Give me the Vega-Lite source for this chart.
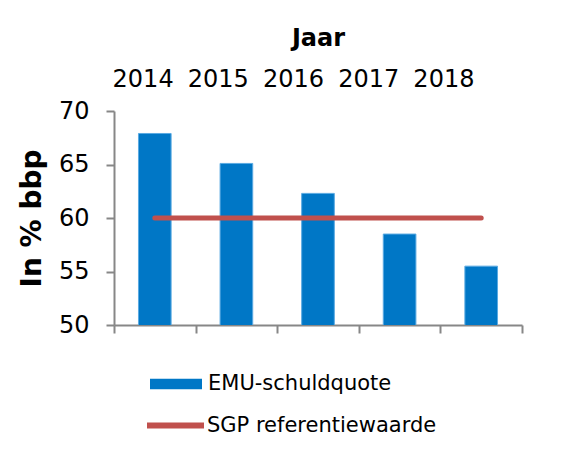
{
  "$schema": "https://vega.github.io/schema/vega-lite/v6.json",
  "width": 408,
  "height": 214,
  "autosize": "none",
  "padding": {"left": 114, "top": 111, "right": 44, "bottom": 125},
  "background": "white",
  "data": {
    "values": [
      {"jaar": "2014", "emu": 67.9, "sgp": 60},
      {"jaar": "2015", "emu": 65.1, "sgp": 60},
      {"jaar": "2016", "emu": 62.3, "sgp": 60},
      {"jaar": "2017", "emu": 58.5, "sgp": 60},
      {"jaar": "2018", "emu": 55.5, "sgp": 60}
    ]
  },
  "layer": [
    {
      "mark": {"type": "bar", "clip": true, "stroke": "#5AAAE2", "strokeWidth": 1},
      "encoding": {
        "x": {
          "field": "jaar", "type": "ordinal",
          "scale": {"paddingInner": 0.6, "paddingOuter": 0.3},
          "axis": null
        },
        "y": {
          "field": "emu", "type": "quantitative",
          "scale": {"domain": [50, 70], "nice": false, "zero": false},
          "axis": {"title": "In % bbp", "values": [50, 55, 60, 65, 70], "grid": false,
                   "domainColor": "#878787", "tickColor": "#878787", "domainWidth": 2, "tickWidth": 2, "tickSize": 8,
                   "labelFont": "DejaVu Sans", "labelFontSize": 24, "labelColor": "#000000", "labelPadding": 17,
                   "titleFont": "DejaVu Sans", "titleFontSize": 28, "titleFontWeight": "bold", "titleColor": "#000000", "titlePadding": 12}
        },
        "fill": {
          "datum": "EMU-schuldquote", "type": "nominal",
          "scale": {"domain": ["EMU-schuldquote"], "range": ["#0077C6"]},
          "legend": {
            "orient": "none", "legendX": 36, "legendY": 247, "title": null,
            "symbolType": "M-1,-0.2H1V0.2H-1Z", "symbolSize": 2704, "symbolStrokeWidth": 0,
            "labelOffset": 6, "padding": 0, "labelLimit": 400,
            "labelFont": "DejaVu Sans", "labelFontSize": 21, "labelColor": "#000000"
          }
        }
      }
    },
    {
      "mark": {"type": "line", "strokeWidth": 5, "strokeCap": "round"},
      "encoding": {
        "x": {"field": "jaar", "type": "ordinal", "bandPosition": 0.5,
              "scale": {"type": "band", "paddingInner": 0, "paddingOuter": 0},
              "axis": {"orient": "bottom", "labels": false, "title": null, "tickBand": "extent",
                       "domainColor": "#878787", "tickColor": "#878787", "domainWidth": 2, "tickWidth": 2, "tickSize": 8}},
        "y": {"field": "sgp", "type": "quantitative"},
        "stroke": {
          "datum": "SGP referentiewaarde", "type": "nominal",
          "scale": {"domain": ["SGP referentiewaarde"], "range": ["#C0504D"]},
          "legend": {
            "orient": "none", "legendX": 30, "legendY": 283, "title": null,
            "symbolType": "stroke", "symbolSize": 3249, "symbolStrokeWidth": 6,
            "labelOffset": 0, "padding": 0, "labelLimit": 400,
            "labelFont": "DejaVu Sans", "labelFontSize": 21, "labelColor": "#000000"
          }
        }
      }
    },
    {
      "mark": {"type": "bar", "opacity": 0, "clip": true},
      "encoding": {
        "x": {
          "field": "jaar", "type": "ordinal",
          "scale": {"paddingInner": 0, "paddingOuter": 0.213},
          "axis": {"orient": "top", "title": "Jaar", "domain": false, "ticks": false, "tickSize": 0, "labelAngle": 0,
                   "labelOffset": -24.5, "labelPadding": 20, "labelFont": "DejaVu Sans", "labelFontSize": 24, "labelColor": "#000000",
                   "titleFont": "DejaVu Sans", "titleFontSize": 24, "titleFontWeight": "bold", "titleColor": "#000000", "titlePadding": 17}
        },
        "y": {"field": "emu", "type": "quantitative"}
      }
    }
  ],
  "resolve": {"scale": {"x": "independent"}, "axis": {"x": "independent"}},
  "config": {"view": {"stroke": null}, "axis": {"grid": false}}
}
